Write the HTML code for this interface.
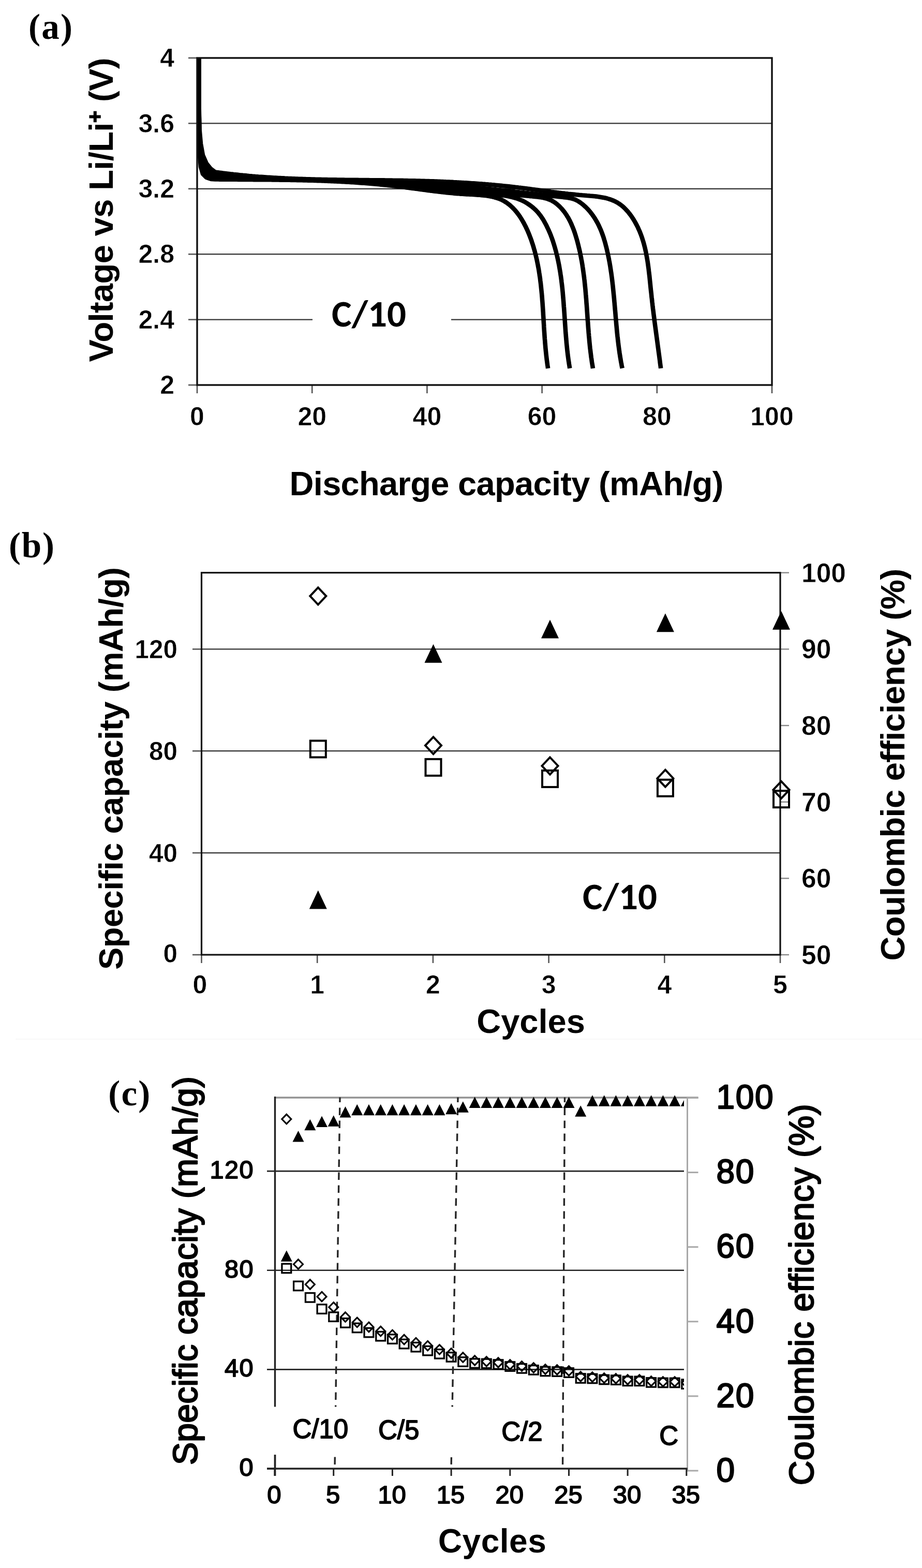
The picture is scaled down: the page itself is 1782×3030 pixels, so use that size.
<!DOCTYPE html><html><head><meta charset="utf-8"><title>Figure</title><style>html,body{margin:0;padding:0;background:#fff;}svg{display:block;}</style></head><body>
<svg width="1782" height="3030" viewBox="0 0 1782 3030">
<rect width="1782" height="3030" fill="#fff"/>
<line x1="30" y1="2008" x2="1782" y2="2008" stroke="#f8f8f8" stroke-width="2"/>
<line x1="381.0" y1="617.6" x2="1492.0" y2="617.6" stroke="#333" stroke-width="2.2" />
<line x1="381.0" y1="491.2" x2="1492.0" y2="491.2" stroke="#333" stroke-width="2.2" />
<line x1="381.0" y1="364.8" x2="1492.0" y2="364.8" stroke="#333" stroke-width="2.2" />
<line x1="381.0" y1="238.4" x2="1492.0" y2="238.4" stroke="#333" stroke-width="2.2" />
<line x1="364.0" y1="744.0" x2="381.0" y2="744.0" stroke="#555" stroke-width="2.6" />
<line x1="364.0" y1="617.6" x2="381.0" y2="617.6" stroke="#555" stroke-width="2.6" />
<line x1="364.0" y1="491.2" x2="381.0" y2="491.2" stroke="#555" stroke-width="2.6" />
<line x1="364.0" y1="364.8" x2="381.0" y2="364.8" stroke="#555" stroke-width="2.6" />
<line x1="364.0" y1="238.4" x2="381.0" y2="238.4" stroke="#555" stroke-width="2.6" />
<line x1="364.0" y1="112.0" x2="381.0" y2="112.0" stroke="#555" stroke-width="2.6" />
<line x1="381.0" y1="744.0" x2="381.0" y2="760.0" stroke="#555" stroke-width="2.6" />
<line x1="603.2" y1="744.0" x2="603.2" y2="760.0" stroke="#555" stroke-width="2.6" />
<line x1="825.4" y1="744.0" x2="825.4" y2="760.0" stroke="#555" stroke-width="2.6" />
<line x1="1047.6" y1="744.0" x2="1047.6" y2="760.0" stroke="#555" stroke-width="2.6" />
<line x1="1269.8" y1="744.0" x2="1269.8" y2="760.0" stroke="#555" stroke-width="2.6" />
<line x1="1492.0" y1="744.0" x2="1492.0" y2="760.0" stroke="#555" stroke-width="2.6" />
<rect x="604" y="585" width="268" height="60" fill="#fff"/>
<text x="641.0" y="631.0" font-family="Carlito, Calibri, 'Liberation Sans', sans-serif" font-size="73" font-weight="bold" text-anchor="start" fill="#000" >C/10</text>
<path d="M384.5,112.0 L384.5,200.0 L385.0,260.0 L386.0,300.0 L388.0,322.0 L392.0,336.0 L399.0,343.0 L408.0,346.0 L416.1,346.5 L419.1,346.5 L422.0,346.5 L425.0,346.6 L428.0,346.6 L430.9,346.6 L433.9,346.6 L436.9,346.7 L439.9,346.7 L442.8,346.7 L445.8,346.7 L448.8,346.8 L451.8,346.8 L454.8,346.8 L457.7,346.8 L460.7,346.9 L463.7,346.9 L466.7,346.9 L469.7,346.9 L472.7,346.9 L475.6,347.0 L478.6,347.0 L481.6,347.0 L484.6,347.0 L487.6,347.0 L490.6,347.1 L493.6,347.1 L496.6,347.1 L499.6,347.1 L502.6,347.2 L505.6,347.2 L508.6,347.2 L511.6,347.2 L514.6,347.3 L517.6,347.3 L520.6,347.3 L523.6,347.3 L526.5,347.4 L529.5,347.4 L532.5,347.4 L535.5,347.5 L538.5,347.5 L541.5,347.6 L544.6,347.6 L547.6,347.6 L550.6,347.7 L553.6,347.7 L556.6,347.8 L559.6,347.8 L562.6,347.9 L565.6,347.9 L568.6,348.0 L571.6,348.0 L574.6,348.1 L577.6,348.2 L580.6,348.2 L583.6,348.3 L586.6,348.4 L589.6,348.4 L592.6,348.5 L595.6,348.6 L598.6,348.7 L601.6,348.7 L604.6,348.8 L607.6,348.9 L610.6,349.0 L613.6,349.1 L616.6,349.2 L619.6,349.3 L622.6,349.4 L625.6,349.5 L628.6,349.6 L631.6,349.8 L634.6,349.9 L637.6,350.0 L640.6,350.1 L643.6,350.3 L646.6,350.4 L649.6,350.5 L652.5,350.7 L655.5,350.8 L658.5,351.0 L661.5,351.1 L664.5,351.3 L667.5,351.5 L670.5,351.6 L673.5,351.8 L676.5,352.0 L679.4,352.2 L682.4,352.3 L685.4,352.5 L688.4,352.7 L691.4,352.9 L694.3,353.1 L697.3,353.4 L700.3,353.6 L703.3,353.8 L706.3,354.0 L709.2,354.3 L712.2,354.5 L715.2,354.7 L718.1,355.0 L721.1,355.2 L724.1,355.5 L727.0,355.8 L730.0,356.0 L733.0,356.3 L735.9,356.6 L738.9,356.9 L741.8,357.2 L744.8,357.5 L747.7,357.8 L750.7,358.1 L753.7,358.5 L756.6,358.8 L759.5,359.1 L762.5,359.5 L765.4,359.8 L768.4,360.2 L771.3,360.5 L774.3,360.9 L777.2,361.3 L780.1,361.6 L783.1,362.0 L786.0,362.4 L788.9,362.8 L791.9,363.2 L794.8,363.6 L797.8,363.9 L800.7,364.3 L803.6,364.7 L806.6,365.1 L809.5,365.5 L812.5,365.9 L815.4,366.3 L818.4,366.7 L821.3,367.1 L824.3,367.5 L827.2,367.9 L830.2,368.3 L833.1,368.6 L836.1,369.0 L839.1,369.4 L842.0,369.7 L845.0,370.1 L848.0,370.5 L851.0,370.8 L854.0,371.1 L856.9,371.5 L859.9,371.8 L862.9,372.1 L865.9,372.4 L869.0,372.7 L872.0,373.0 L875.0,373.3 L878.0,373.6 L881.1,373.9 L884.1,374.1 L887.2,374.3 L890.2,374.6 L893.3,374.8 L896.3,375.0 L899.4,375.2 L902.5,375.4 L905.6,375.5 L908.7,375.7 L911.8,375.8 L914.9,376.0 L918.0,376.2 L921.1,376.4 L924.1,376.6 L927.2,376.8 L930.3,377.1 L933.3,377.4 L936.3,377.7 L939.3,378.1 L942.3,378.5 L945.2,379.0 L948.1,379.5 L951.0,380.1 L953.8,380.7 L956.6,381.5 L959.4,382.3 L962.1,383.2 L964.8,384.1 L967.4,385.2 L970.0,386.4 L972.5,387.7 L974.9,389.0 L977.3,390.5 L979.6,392.0 L981.9,393.7 L984.1,395.4 L986.3,397.2 L988.4,399.1 L990.5,401.1 L992.5,403.1 L994.5,405.2 L996.4,407.4 L998.3,409.7 L1000.1,412.0 L1001.9,414.3 L1003.6,416.7 L1005.3,419.2 L1006.9,421.7 L1008.5,424.3 L1010.0,426.9 L1011.5,429.5 L1013.0,432.2 L1014.4,434.9 L1015.8,437.6 L1017.1,440.4 L1018.4,443.1 L1019.7,445.9 L1020.9,448.7 L1022.1,451.6 L1023.2,454.4 L1024.3,457.2 L1025.4,460.1 L1026.5,463.0 L1027.5,465.9 L1028.4,468.8 L1029.4,471.7 L1030.3,474.6 L1031.2,477.5 L1032.0,480.4 L1032.9,483.3 L1033.7,486.3 L1034.4,489.2 L1035.2,492.1 L1035.9,495.1 L1036.6,498.0 L1037.3,500.9 L1037.9,503.9 L1038.5,506.8 L1039.1,509.8 L1039.7,512.7 L1040.2,515.7 L1040.8,518.6 L1041.3,521.5 L1041.8,524.5 L1042.2,527.4 L1042.7,530.4 L1043.1,533.3 L1043.6,536.3 L1044.0,539.2 L1044.3,542.2 L1044.7,545.2 L1045.1,548.1 L1045.4,551.1 L1045.7,554.0 L1046.0,557.0 L1046.3,559.9 L1046.6,562.9 L1046.9,565.9 L1047.2,568.8 L1047.4,571.8 L1047.7,574.8 L1047.9,577.7 L1048.1,580.7 L1048.4,583.7 L1048.6,586.6 L1048.8,589.6 L1049.0,592.6 L1049.2,595.5 L1049.4,598.5 L1049.6,601.5 L1049.8,604.4 L1049.9,607.4 L1050.1,610.4 L1050.3,613.4 L1050.5,616.3 L1050.6,619.3 L1050.8,622.3 L1051.0,625.3 L1051.2,628.2 L1051.3,631.2 L1051.5,634.2 L1051.7,637.2 L1051.9,640.2 L1052.1,643.1 L1052.3,646.1 L1052.5,649.1 L1052.7,652.1 L1052.9,655.1 L1053.2,658.1 L1053.4,661.0 L1053.6,664.0 L1053.9,667.0 L1054.1,670.0 L1054.4,673.0 L1054.7,676.0 L1055.0,679.0 L1055.3,681.9 L1055.6,684.9 L1055.9,687.9 L1056.3,690.9 L1056.6,693.9 L1057.0,696.9 L1057.4,699.9 L1057.8,702.9 L1058.2,705.9 L1058.7,708.9 L1059.1,711.9" fill="none" stroke="#000" stroke-width="8.6" stroke-linejoin="round" stroke-linecap="butt"/>
<path d="M384.5,112.0 L384.5,200.0 L385.0,258.0 L386.5,296.0 L389.0,318.0 L394.0,332.0 L401.0,339.0 L415.8,340.9 L418.8,341.2 L421.8,341.4 L424.9,341.7 L427.9,341.9 L430.9,342.1 L433.9,342.3 L437.0,342.5 L440.0,342.7 L443.0,342.9 L446.0,343.1 L449.0,343.3 L452.0,343.5 L455.0,343.6 L458.0,343.8 L461.1,344.0 L464.1,344.1 L467.1,344.3 L470.1,344.4 L473.1,344.6 L476.1,344.7 L479.1,344.8 L482.1,345.0 L485.1,345.1 L488.1,345.2 L491.1,345.3 L494.1,345.4 L497.0,345.5 L500.0,345.6 L503.0,345.7 L506.0,345.8 L509.0,345.9 L512.0,346.0 L515.0,346.1 L518.0,346.2 L521.0,346.3 L523.9,346.3 L526.9,346.4 L529.9,346.5 L532.9,346.5 L535.9,346.6 L538.9,346.7 L541.8,346.7 L544.8,346.8 L547.8,346.9 L550.8,346.9 L553.8,347.0 L556.7,347.0 L559.7,347.1 L562.7,347.1 L565.7,347.2 L568.6,347.2 L571.6,347.3 L574.6,347.4 L577.6,347.4 L580.5,347.5 L583.5,347.5 L586.5,347.6 L589.5,347.6 L592.4,347.7 L595.4,347.7 L598.4,347.8 L601.4,347.8 L604.3,347.9 L607.3,347.9 L610.3,348.0 L613.3,348.0 L616.2,348.1 L619.2,348.1 L622.2,348.2 L625.2,348.3 L628.1,348.3 L631.1,348.4 L634.1,348.5 L637.1,348.5 L640.0,348.6 L643.0,348.7 L646.0,348.8 L649.0,348.8 L651.9,348.9 L654.9,349.0 L657.9,349.1 L660.9,349.2 L663.8,349.3 L666.8,349.4 L669.8,349.5 L672.8,349.6 L675.8,349.7 L678.7,349.8 L681.7,350.0 L684.7,350.1 L687.7,350.2 L690.7,350.4 L693.6,350.5 L696.6,350.6 L699.6,350.8 L702.6,350.9 L705.6,351.1 L708.6,351.3 L711.6,351.4 L714.6,351.6 L717.5,351.8 L720.5,352.0 L723.5,352.2 L726.5,352.4 L729.5,352.6 L732.5,352.8 L735.5,353.0 L738.5,353.3 L741.5,353.5 L744.5,353.7 L747.5,354.0 L750.5,354.2 L753.5,354.5 L756.5,354.8 L759.5,355.0 L762.5,355.3 L765.5,355.6 L768.6,355.9 L771.6,356.2 L774.6,356.6 L777.6,356.9 L780.6,357.2 L783.6,357.5 L786.6,357.9 L789.7,358.2 L792.7,358.6 L795.7,358.9 L798.7,359.3 L801.7,359.6 L804.7,360.0 L807.8,360.3 L810.8,360.7 L813.8,361.1 L816.8,361.4 L819.8,361.8 L822.8,362.2 L825.9,362.6 L828.9,362.9 L831.9,363.3 L834.9,363.7 L837.9,364.0 L840.9,364.4 L843.9,364.8 L847.0,365.1 L850.0,365.5 L853.0,365.8 L856.0,366.2 L859.0,366.5 L862.0,366.9 L865.0,367.2 L868.0,367.5 L871.0,367.9 L874.0,368.2 L877.0,368.5 L880.0,368.8 L883.0,369.1 L885.9,369.4 L888.9,369.7 L891.9,370.0 L894.9,370.2 L897.9,370.5 L900.8,370.8 L903.8,371.0 L906.8,371.2 L909.7,371.5 L912.7,371.7 L915.7,371.9 L918.6,372.1 L921.6,372.3 L924.5,372.5 L927.5,372.8 L930.4,373.0 L933.3,373.2 L936.3,373.5 L939.2,373.7 L942.1,374.0 L945.0,374.2 L948.0,374.5 L950.9,374.8 L953.8,375.1 L956.7,375.4 L959.6,375.8 L962.5,376.1 L965.4,376.5 L968.2,376.9 L971.1,377.4 L974.0,377.8 L976.9,378.3 L979.7,378.8 L982.6,379.4 L985.4,380.0 L988.3,380.6 L991.1,381.3 L993.9,382.0 L996.8,382.8 L999.6,383.7 L1002.4,384.8 L1005.2,385.9 L1008.0,387.1 L1010.8,388.4 L1013.5,389.8 L1016.2,391.3 L1018.8,392.9 L1021.4,394.6 L1024.0,396.4 L1026.5,398.2 L1028.9,400.1 L1031.3,402.1 L1033.5,404.1 L1035.7,406.2 L1037.8,408.4 L1039.8,410.6 L1041.7,412.9 L1043.6,415.3 L1045.3,417.6 L1047.0,420.1 L1048.6,422.5 L1050.2,425.1 L1051.7,427.6 L1053.1,430.2 L1054.5,432.8 L1055.9,435.4 L1057.2,438.1 L1058.5,440.8 L1059.8,443.5 L1061.0,446.2 L1062.2,448.9 L1063.4,451.7 L1064.5,454.5 L1065.5,457.3 L1066.6,460.1 L1067.6,463.0 L1068.6,465.8 L1069.5,468.7 L1070.4,471.6 L1071.3,474.5 L1072.2,477.4 L1073.0,480.3 L1073.8,483.2 L1074.6,486.1 L1075.3,489.0 L1076.1,492.0 L1076.8,494.9 L1077.4,497.8 L1078.1,500.8 L1078.7,503.7 L1079.3,506.6 L1079.9,509.6 L1080.5,512.5 L1081.0,515.5 L1081.5,518.4 L1082.0,521.4 L1082.5,524.3 L1083.0,527.3 L1083.4,530.2 L1083.9,533.2 L1084.3,536.1 L1084.7,539.1 L1085.1,542.1 L1085.4,545.0 L1085.8,548.0 L1086.1,550.9 L1086.5,553.9 L1086.8,556.9 L1087.1,559.8 L1087.4,562.8 L1087.7,565.8 L1087.9,568.8 L1088.2,571.7 L1088.4,574.7 L1088.7,577.7 L1088.9,580.7 L1089.2,583.6 L1089.4,586.6 L1089.6,589.6 L1089.8,592.6 L1090.1,595.5 L1090.3,598.5 L1090.5,601.5 L1090.7,604.5 L1090.9,607.5 L1091.1,610.5 L1091.3,613.4 L1091.5,616.4 L1091.7,619.4 L1091.9,622.4 L1092.1,625.4 L1092.3,628.4 L1092.5,631.3 L1092.7,634.3 L1092.9,637.3 L1093.1,640.3 L1093.3,643.3 L1093.6,646.3 L1093.8,649.3 L1094.1,652.2 L1094.3,655.2 L1094.6,658.2 L1094.8,661.2 L1095.1,664.2 L1095.4,667.2 L1095.7,670.1 L1096.0,673.1 L1096.3,676.1 L1096.6,679.1 L1097.0,682.1 L1097.3,685.1 L1097.7,688.0 L1098.1,691.0 L1098.5,694.0 L1098.9,697.0 L1099.4,699.9 L1099.8,702.9 L1100.3,705.9 L1100.8,708.9 L1101.3,711.8" fill="none" stroke="#000" stroke-width="8.6" stroke-linejoin="round" stroke-linecap="butt"/>
<path d="M384.5,112.0 L384.5,200.0 L385.0,255.0 L387.0,292.0 L390.0,313.0 L395.0,326.0 L403.0,334.0 L415.8,337.9 L418.8,338.2 L421.9,338.4 L424.9,338.7 L427.9,339.0 L430.9,339.3 L433.9,339.5 L436.9,339.8 L439.9,340.0 L442.9,340.3 L445.9,340.5 L448.9,340.8 L451.9,341.0 L454.9,341.2 L457.9,341.4 L460.9,341.6 L463.9,341.8 L466.9,342.0 L469.9,342.2 L472.9,342.4 L475.9,342.6 L478.9,342.8 L481.9,343.0 L484.9,343.2 L487.9,343.3 L490.9,343.5 L493.9,343.6 L496.9,343.8 L499.9,344.0 L502.9,344.1 L505.9,344.2 L508.8,344.4 L511.8,344.5 L514.8,344.7 L517.8,344.8 L520.8,344.9 L523.8,345.0 L526.8,345.2 L529.7,345.3 L532.7,345.4 L535.7,345.5 L538.7,345.6 L541.7,345.7 L544.7,345.8 L547.6,345.9 L550.6,346.0 L553.6,346.1 L556.6,346.2 L559.6,346.3 L562.5,346.4 L565.5,346.5 L568.5,346.6 L571.5,346.7 L574.5,346.7 L577.4,346.8 L580.4,346.9 L583.4,347.0 L586.4,347.1 L589.4,347.2 L592.3,347.2 L595.3,347.3 L598.3,347.4 L601.3,347.5 L604.2,347.5 L607.2,347.6 L610.2,347.7 L613.2,347.8 L616.1,347.8 L619.1,347.9 L622.1,348.0 L625.1,348.0 L628.1,348.1 L631.0,348.2 L634.0,348.3 L637.0,348.3 L640.0,348.4 L642.9,348.5 L645.9,348.6 L648.9,348.7 L651.9,348.7 L654.8,348.8 L657.8,348.9 L660.8,349.0 L663.8,349.1 L666.8,349.2 L669.7,349.2 L672.7,349.3 L675.7,349.4 L678.7,349.5 L681.7,349.6 L684.6,349.7 L687.6,349.8 L690.6,349.9 L693.6,350.0 L696.6,350.1 L699.6,350.2 L702.5,350.3 L705.5,350.5 L708.5,350.6 L711.5,350.7 L714.5,350.8 L717.5,351.0 L720.5,351.1 L723.4,351.2 L726.4,351.4 L729.4,351.5 L732.4,351.7 L735.4,351.8 L738.4,352.0 L741.4,352.1 L744.4,352.3 L747.4,352.4 L750.4,352.6 L753.4,352.8 L756.4,353.0 L759.4,353.2 L762.3,353.3 L765.3,353.5 L768.3,353.7 L771.3,353.9 L774.3,354.1 L777.3,354.4 L780.3,354.6 L783.4,354.8 L786.4,355.0 L789.4,355.2 L792.4,355.5 L795.4,355.7 L798.4,356.0 L801.4,356.2 L804.4,356.4 L807.4,356.7 L810.4,357.0 L813.4,357.2 L816.4,357.5 L819.4,357.7 L822.4,358.0 L825.4,358.3 L828.4,358.6 L831.4,358.8 L834.4,359.1 L837.5,359.4 L840.5,359.7 L843.5,360.0 L846.5,360.3 L849.5,360.6 L852.5,360.8 L855.5,361.1 L858.5,361.4 L861.5,361.7 L864.5,362.0 L867.5,362.4 L870.5,362.7 L873.5,363.0 L876.5,363.3 L879.5,363.6 L882.5,363.9 L885.5,364.2 L888.5,364.5 L891.5,364.9 L894.5,365.2 L897.5,365.5 L900.5,365.8 L903.5,366.1 L906.5,366.5 L909.5,366.8 L912.5,367.1 L915.4,367.4 L918.4,367.8 L921.4,368.1 L924.4,368.4 L927.4,368.7 L930.4,369.1 L933.4,369.4 L936.3,369.7 L939.3,370.0 L942.3,370.4 L945.3,370.7 L948.2,371.0 L951.2,371.3 L954.2,371.7 L957.2,372.0 L960.1,372.3 L963.1,372.6 L966.0,373.0 L969.0,373.3 L972.0,373.6 L974.9,373.9 L977.9,374.2 L980.8,374.5 L983.8,374.9 L986.7,375.2 L989.7,375.5 L992.6,375.8 L995.6,376.1 L998.5,376.4 L1001.5,376.7 L1004.4,377.0 L1007.3,377.3 L1010.3,377.6 L1013.2,377.9 L1016.1,378.2 L1019.0,378.5 L1022.0,378.8 L1024.9,379.1 L1027.8,379.3 L1030.7,379.6 L1033.6,379.9 L1036.5,380.2 L1039.4,380.5 L1042.3,380.9 L1045.1,381.3 L1048.0,381.8 L1050.8,382.3 L1053.6,383.0 L1056.3,383.7 L1059.0,384.6 L1061.7,385.6 L1064.3,386.7 L1066.9,388.0 L1069.4,389.5 L1071.9,391.1 L1074.3,392.8 L1076.7,394.7 L1079.0,396.7 L1081.2,398.7 L1083.3,400.9 L1085.4,403.1 L1087.4,405.4 L1089.3,407.7 L1091.2,410.1 L1092.9,412.6 L1094.6,415.1 L1096.2,417.7 L1097.8,420.2 L1099.3,422.9 L1100.7,425.6 L1102.1,428.3 L1103.4,431.0 L1104.6,433.8 L1105.8,436.6 L1107.0,439.4 L1108.1,442.3 L1109.2,445.1 L1110.2,448.0 L1111.2,450.9 L1112.1,453.8 L1113.0,456.8 L1113.9,459.7 L1114.8,462.7 L1115.6,465.6 L1116.4,468.6 L1117.1,471.5 L1117.9,474.4 L1118.6,477.4 L1119.3,480.3 L1120.0,483.3 L1120.7,486.2 L1121.3,489.2 L1121.9,492.1 L1122.5,495.1 L1123.1,498.0 L1123.6,501.0 L1124.2,503.9 L1124.7,506.9 L1125.2,509.8 L1125.7,512.8 L1126.1,515.7 L1126.6,518.7 L1127.0,521.6 L1127.4,524.6 L1127.8,527.5 L1128.2,530.5 L1128.6,533.4 L1129.0,536.4 L1129.3,539.3 L1129.7,542.3 L1130.0,545.2 L1130.3,548.2 L1130.6,551.2 L1130.9,554.1 L1131.2,557.1 L1131.5,560.0 L1131.7,563.0 L1132.0,565.9 L1132.2,568.9 L1132.5,571.9 L1132.7,574.8 L1133.0,577.8 L1133.2,580.7 L1133.4,583.7 L1133.6,586.7 L1133.9,589.6 L1134.1,592.6 L1134.3,595.6 L1134.5,598.5 L1134.7,601.5 L1134.9,604.5 L1135.1,607.4 L1135.3,610.4 L1135.5,613.4 L1135.7,616.3 L1135.9,619.3 L1136.2,622.3 L1136.4,625.3 L1136.6,628.2 L1136.8,631.2 L1137.0,634.2 L1137.3,637.2 L1137.5,640.1 L1137.7,643.1 L1138.0,646.1 L1138.2,649.1 L1138.5,652.1 L1138.8,655.0 L1139.0,658.0 L1139.3,661.0 L1139.6,664.0 L1139.9,667.0 L1140.2,670.0 L1140.5,673.0 L1140.9,676.0 L1141.2,678.9 L1141.6,681.9 L1142.0,684.9 L1142.3,687.9 L1142.7,690.9 L1143.2,693.9 L1143.6,696.9 L1144.0,699.9 L1144.5,702.9 L1145.0,705.9 L1145.5,708.9 L1146.0,711.9" fill="none" stroke="#000" stroke-width="8.6" stroke-linejoin="round" stroke-linecap="butt"/>
<path d="M384.5,112.0 L384.5,200.0 L385.0,252.0 L387.5,286.0 L391.0,307.0 L397.0,321.0 L405.0,330.0 L415.8,335.0 L418.8,335.4 L421.8,335.8 L424.8,336.1 L427.8,336.5 L430.8,336.8 L433.8,337.2 L436.8,337.5 L439.8,337.8 L442.8,338.1 L445.9,338.4 L448.9,338.7 L451.9,339.0 L454.9,339.3 L457.9,339.6 L460.9,339.9 L463.9,340.1 L466.9,340.4 L469.9,340.6 L472.9,340.9 L475.9,341.1 L478.9,341.4 L481.9,341.6 L484.8,341.8 L487.8,342.0 L490.8,342.2 L493.8,342.4 L496.8,342.6 L499.8,342.8 L502.8,343.0 L505.8,343.2 L508.8,343.4 L511.8,343.6 L514.8,343.7 L517.7,343.9 L520.7,344.1 L523.7,344.2 L526.7,344.4 L529.7,344.5 L532.7,344.7 L535.7,344.8 L538.6,345.0 L541.6,345.1 L544.6,345.2 L547.6,345.3 L550.6,345.5 L553.6,345.6 L556.5,345.7 L559.5,345.8 L562.5,345.9 L565.5,346.0 L568.5,346.1 L571.5,346.2 L574.4,346.3 L577.4,346.4 L580.4,346.5 L583.4,346.6 L586.3,346.7 L589.3,346.8 L592.3,346.8 L595.3,346.9 L598.3,347.0 L601.2,347.1 L604.2,347.2 L607.2,347.2 L610.2,347.3 L613.2,347.4 L616.1,347.4 L619.1,347.5 L622.1,347.6 L625.1,347.6 L628.0,347.7 L631.0,347.7 L634.0,347.8 L637.0,347.9 L640.0,347.9 L642.9,348.0 L645.9,348.0 L648.9,348.1 L651.9,348.2 L654.8,348.2 L657.8,348.3 L660.8,348.3 L663.8,348.4 L666.8,348.4 L669.7,348.5 L672.7,348.6 L675.7,348.6 L678.7,348.7 L681.7,348.7 L684.6,348.8 L687.6,348.9 L690.6,348.9 L693.6,349.0 L696.6,349.1 L699.5,349.1 L702.5,349.2 L705.5,349.3 L708.5,349.3 L711.5,349.4 L714.5,349.5 L717.5,349.6 L720.4,349.6 L723.4,349.7 L726.4,349.8 L729.4,349.9 L732.4,350.0 L735.4,350.1 L738.4,350.1 L741.4,350.2 L744.3,350.3 L747.3,350.4 L750.3,350.5 L753.3,350.6 L756.3,350.8 L759.3,350.9 L762.3,351.0 L765.3,351.1 L768.3,351.2 L771.3,351.3 L774.3,351.5 L777.3,351.6 L780.3,351.8 L783.3,351.9 L786.3,352.0 L789.3,352.2 L792.3,352.3 L795.3,352.5 L798.3,352.7 L801.3,352.8 L804.3,353.0 L807.3,353.2 L810.3,353.4 L813.3,353.6 L816.3,353.7 L819.3,353.9 L822.3,354.1 L825.4,354.3 L828.4,354.5 L831.4,354.8 L834.4,355.0 L837.4,355.2 L840.4,355.4 L843.4,355.6 L846.4,355.9 L849.5,356.1 L852.5,356.3 L855.5,356.6 L858.5,356.8 L861.5,357.1 L864.5,357.3 L867.5,357.6 L870.5,357.8 L873.6,358.1 L876.6,358.4 L879.6,358.6 L882.6,358.9 L885.6,359.2 L888.6,359.4 L891.6,359.7 L894.6,360.0 L897.6,360.3 L900.7,360.6 L903.7,360.9 L906.7,361.2 L909.7,361.4 L912.7,361.7 L915.7,362.0 L918.7,362.3 L921.7,362.6 L924.7,362.9 L927.7,363.2 L930.7,363.6 L933.7,363.9 L936.7,364.2 L939.7,364.5 L942.7,364.8 L945.7,365.1 L948.7,365.4 L951.7,365.8 L954.7,366.1 L957.7,366.4 L960.6,366.7 L963.6,367.0 L966.6,367.4 L969.6,367.7 L972.6,368.0 L975.6,368.3 L978.5,368.7 L981.5,369.0 L984.5,369.3 L987.5,369.7 L990.4,370.0 L993.4,370.3 L996.4,370.7 L999.3,371.0 L1002.3,371.3 L1005.2,371.7 L1008.2,372.0 L1011.2,372.3 L1014.1,372.7 L1017.1,373.0 L1020.0,373.3 L1022.9,373.7 L1025.9,374.0 L1028.8,374.3 L1031.8,374.6 L1034.7,375.0 L1037.6,375.3 L1040.6,375.6 L1043.5,376.0 L1046.4,376.3 L1049.3,376.6 L1052.2,377.0 L1055.2,377.3 L1058.1,377.6 L1061.0,377.9 L1063.9,378.3 L1066.8,378.6 L1069.7,378.9 L1072.6,379.2 L1075.5,379.5 L1078.4,379.9 L1081.2,380.2 L1084.1,380.5 L1087.0,380.8 L1089.9,381.1 L1092.7,381.4 L1095.6,381.8 L1098.5,382.2 L1101.3,382.7 L1104.1,383.3 L1106.9,384.1 L1109.6,385.0 L1112.3,386.1 L1115.0,387.4 L1117.6,388.9 L1120.2,390.5 L1122.7,392.3 L1125.2,394.2 L1127.6,396.1 L1129.9,398.2 L1132.2,400.3 L1134.4,402.5 L1136.6,404.8 L1138.7,407.2 L1140.7,409.6 L1142.6,412.0 L1144.5,414.5 L1146.4,417.1 L1148.1,419.6 L1149.8,422.2 L1151.4,424.9 L1152.9,427.5 L1154.4,430.1 L1155.8,432.8 L1157.2,435.5 L1158.4,438.2 L1159.7,441.0 L1160.9,443.7 L1162.0,446.4 L1163.1,449.2 L1164.1,452.0 L1165.1,454.8 L1166.1,457.6 L1167.0,460.4 L1167.8,463.2 L1168.7,466.1 L1169.5,468.9 L1170.3,471.8 L1171.0,474.6 L1171.8,477.5 L1172.5,480.4 L1173.2,483.3 L1173.8,486.2 L1174.5,489.0 L1175.1,491.9 L1175.7,494.8 L1176.3,497.8 L1176.9,500.7 L1177.4,503.6 L1178.0,506.5 L1178.5,509.4 L1179.0,512.4 L1179.5,515.3 L1179.9,518.3 L1180.4,521.2 L1180.8,524.2 L1181.3,527.1 L1181.7,530.1 L1182.1,533.0 L1182.5,536.0 L1182.9,539.0 L1183.2,541.9 L1183.6,544.9 L1183.9,547.9 L1184.3,550.9 L1184.6,553.8 L1184.9,556.8 L1185.2,559.8 L1185.5,562.8 L1185.8,565.8 L1186.1,568.8 L1186.4,571.8 L1186.7,574.8 L1187.0,577.8 L1187.2,580.8 L1187.5,583.8 L1187.8,586.8 L1188.0,589.8 L1188.3,592.8 L1188.5,595.8 L1188.8,598.8 L1189.1,601.8 L1189.3,604.8 L1189.6,607.8 L1189.8,610.8 L1190.1,613.8 L1190.3,616.8 L1190.6,619.8 L1190.9,622.8 L1191.1,625.8 L1191.4,628.8 L1191.7,631.8 L1192.0,634.8 L1192.2,637.8 L1192.5,640.8 L1192.8,643.7 L1193.1,646.7 L1193.4,649.7 L1193.8,652.7 L1194.1,655.7 L1194.4,658.7 L1194.8,661.6 L1195.1,664.6 L1195.5,667.6 L1195.9,670.5 L1196.3,673.5 L1196.7,676.5 L1197.1,679.4 L1197.5,682.4 L1198.0,685.3 L1198.4,688.3 L1198.9,691.2 L1199.4,694.1 L1199.9,697.1 L1200.4,700.0 L1201.0,702.9 L1201.5,705.8 L1202.1,708.8 L1202.7,711.7" fill="none" stroke="#000" stroke-width="8.6" stroke-linejoin="round" stroke-linecap="butt"/>
<path d="M384.5,112.0 L384.5,200.0 L385.5,250.0 L388.0,278.0 L392.0,300.0 L399.0,316.0 L407.0,326.0 L415.6,332.5 L418.6,332.9 L421.6,333.3 L424.6,333.7 L427.6,334.1 L430.6,334.5 L433.6,334.9 L436.6,335.2 L439.6,335.6 L442.6,335.9 L445.7,336.3 L448.7,336.6 L451.7,337.0 L454.7,337.3 L457.7,337.6 L460.7,337.9 L463.7,338.3 L466.7,338.6 L469.7,338.9 L472.7,339.1 L475.7,339.4 L478.7,339.7 L481.7,340.0 L484.7,340.2 L487.7,340.5 L490.7,340.7 L493.7,341.0 L496.7,341.2 L499.7,341.5 L502.7,341.7 L505.7,341.9 L508.7,342.1 L511.7,342.3 L514.7,342.5 L517.7,342.7 L520.7,342.9 L523.7,343.1 L526.7,343.3 L529.7,343.5 L532.7,343.6 L535.7,343.8 L538.7,344.0 L541.6,344.1 L544.6,344.3 L547.6,344.4 L550.6,344.6 L553.6,344.7 L556.6,344.9 L559.6,345.0 L562.6,345.1 L565.6,345.3 L568.6,345.4 L571.6,345.5 L574.6,345.6 L577.6,345.7 L580.6,345.8 L583.6,345.9 L586.6,346.0 L589.6,346.1 L592.6,346.2 L595.6,346.3 L598.5,346.4 L601.5,346.5 L604.5,346.5 L607.5,346.6 L610.5,346.7 L613.5,346.8 L616.5,346.8 L619.5,346.9 L622.5,347.0 L625.5,347.0 L628.5,347.1 L631.5,347.1 L634.5,347.2 L637.4,347.2 L640.4,347.3 L643.4,347.3 L646.4,347.4 L649.4,347.4 L652.4,347.5 L655.4,347.5 L658.4,347.6 L661.4,347.6 L664.4,347.6 L667.4,347.7 L670.4,347.7 L673.3,347.8 L676.3,347.8 L679.3,347.8 L682.3,347.8 L685.3,347.9 L688.3,347.9 L691.3,347.9 L694.3,348.0 L697.3,348.0 L700.3,348.0 L703.2,348.1 L706.2,348.1 L709.2,348.1 L712.2,348.1 L715.2,348.2 L718.2,348.2 L721.2,348.2 L724.2,348.3 L727.2,348.3 L730.2,348.3 L733.1,348.3 L736.1,348.4 L739.1,348.4 L742.1,348.4 L745.1,348.5 L748.1,348.5 L751.1,348.5 L754.1,348.6 L757.1,348.6 L760.0,348.7 L763.0,348.7 L766.0,348.7 L769.0,348.8 L772.0,348.8 L775.0,348.9 L778.0,348.9 L781.0,349.0 L784.0,349.0 L787.0,349.1 L789.9,349.2 L792.9,349.2 L795.9,349.3 L798.9,349.3 L801.9,349.4 L804.9,349.5 L807.9,349.6 L810.9,349.6 L813.9,349.7 L816.9,349.8 L819.8,349.9 L822.8,350.0 L825.8,350.0 L828.8,350.1 L831.8,350.2 L834.8,350.3 L837.8,350.4 L840.8,350.5 L843.8,350.6 L846.8,350.8 L849.7,350.9 L852.7,351.0 L855.7,351.1 L858.7,351.2 L861.7,351.4 L864.7,351.5 L867.7,351.6 L870.7,351.8 L873.7,351.9 L876.7,352.1 L879.7,352.2 L882.6,352.4 L885.6,352.5 L888.6,352.7 L891.6,352.9 L894.6,353.0 L897.6,353.2 L900.6,353.4 L903.6,353.6 L906.6,353.8 L909.6,354.0 L912.6,354.2 L915.6,354.4 L918.6,354.6 L921.6,354.8 L924.5,355.0 L927.5,355.2 L930.5,355.4 L933.5,355.7 L936.5,355.9 L939.5,356.2 L942.5,356.4 L945.5,356.7 L948.5,356.9 L951.5,357.2 L954.5,357.4 L957.5,357.7 L960.5,358.0 L963.5,358.3 L966.5,358.6 L969.5,358.9 L972.5,359.2 L975.5,359.5 L978.5,359.8 L981.5,360.1 L984.4,360.4 L987.4,360.7 L990.4,361.1 L993.4,361.4 L996.4,361.8 L999.4,362.1 L1002.4,362.5 L1005.4,362.8 L1008.4,363.2 L1011.4,363.6 L1014.4,363.9 L1017.4,364.3 L1020.4,364.7 L1023.4,365.1 L1026.4,365.5 L1029.4,365.9 L1032.4,366.3 L1035.4,366.7 L1038.4,367.1 L1041.4,367.5 L1044.4,367.9 L1047.4,368.3 L1050.4,368.7 L1053.4,369.1 L1056.4,369.5 L1059.4,369.9 L1062.4,370.3 L1065.4,370.7 L1068.4,371.0 L1071.5,371.4 L1074.5,371.8 L1077.5,372.2 L1080.5,372.6 L1083.5,372.9 L1086.5,373.3 L1089.5,373.6 L1092.5,374.0 L1095.5,374.3 L1098.5,374.7 L1101.5,375.0 L1104.5,375.3 L1107.5,375.6 L1110.5,375.9 L1113.5,376.2 L1116.5,376.5 L1119.5,376.8 L1122.6,377.0 L1125.6,377.3 L1128.6,377.5 L1131.6,377.7 L1134.6,378.0 L1137.6,378.2 L1140.6,378.5 L1143.6,378.7 L1146.5,379.0 L1149.5,379.3 L1152.4,379.6 L1155.3,380.0 L1158.2,380.4 L1161.1,380.9 L1164.0,381.4 L1166.8,381.9 L1169.6,382.5 L1172.4,383.2 L1175.1,384.0 L1177.8,384.8 L1180.5,385.7 L1183.2,386.7 L1185.7,387.8 L1188.3,388.9 L1190.8,390.2 L1193.3,391.6 L1195.7,393.1 L1198.1,394.7 L1200.4,396.4 L1202.7,398.2 L1204.9,400.1 L1207.1,402.2 L1209.2,404.3 L1211.2,406.5 L1213.3,408.7 L1215.2,411.1 L1217.1,413.5 L1219.0,416.0 L1220.8,418.5 L1222.5,421.1 L1224.2,423.7 L1225.8,426.4 L1227.4,429.1 L1228.9,431.8 L1230.4,434.6 L1231.8,437.4 L1233.2,440.2 L1234.4,443.0 L1235.7,445.8 L1236.9,448.6 L1238.0,451.5 L1239.1,454.3 L1240.1,457.2 L1241.1,460.0 L1242.0,462.9 L1242.9,465.7 L1243.7,468.6 L1244.6,471.5 L1245.3,474.4 L1246.1,477.3 L1246.8,480.2 L1247.4,483.1 L1248.1,486.0 L1248.7,488.9 L1249.2,491.8 L1249.8,494.8 L1250.3,497.7 L1250.8,500.6 L1251.3,503.6 L1251.8,506.5 L1252.2,509.4 L1252.6,512.4 L1253.0,515.3 L1253.4,518.3 L1253.8,521.3 L1254.1,524.2 L1254.5,527.2 L1254.8,530.2 L1255.2,533.1 L1255.5,536.1 L1255.8,539.1 L1256.1,542.1 L1256.4,545.0 L1256.7,548.0 L1257.0,551.0 L1257.3,554.0 L1257.6,557.0 L1257.9,559.9 L1258.2,562.9 L1258.6,565.9 L1258.9,568.9 L1259.2,571.9 L1259.5,574.8 L1259.9,577.8 L1260.2,580.8 L1260.5,583.8 L1260.9,586.8 L1261.2,589.8 L1261.6,592.7 L1261.9,595.7 L1262.3,598.7 L1262.7,601.7 L1263.0,604.7 L1263.4,607.6 L1263.8,610.6 L1264.2,613.6 L1264.6,616.6 L1264.9,619.6 L1265.3,622.5 L1265.7,625.5 L1266.1,628.5 L1266.5,631.5 L1266.9,634.4 L1267.3,637.4 L1267.7,640.4 L1268.1,643.4 L1268.5,646.4 L1268.9,649.3 L1269.3,652.3 L1269.7,655.3 L1270.1,658.3 L1270.5,661.2 L1270.9,664.2 L1271.3,667.2 L1271.7,670.2 L1272.1,673.1 L1272.5,676.1 L1272.9,679.1 L1273.3,682.1 L1273.7,685.0 L1274.1,688.0 L1274.5,691.0 L1274.9,694.0 L1275.3,696.9 L1275.6,699.9 L1276.0,702.9 L1276.4,705.8 L1276.8,708.8 L1277.2,711.8" fill="none" stroke="#000" stroke-width="8.6" stroke-linejoin="round" stroke-linecap="butt"/>
<rect x="381" y="112" width="1111" height="632" fill="none" stroke="#111" stroke-width="3.4"/>
<text x="337.0" y="761.2" font-family="'Liberation Sans', Arial, Helvetica, sans-serif" font-size="50" font-weight="bold" text-anchor="end" fill="#000" stroke="#fff" stroke-width="0.6" stroke-linejoin="round">2</text>
<text x="337.0" y="634.8" font-family="'Liberation Sans', Arial, Helvetica, sans-serif" font-size="50" font-weight="bold" text-anchor="end" fill="#000" stroke="#fff" stroke-width="0.6" stroke-linejoin="round">2.4</text>
<text x="337.0" y="508.4" font-family="'Liberation Sans', Arial, Helvetica, sans-serif" font-size="50" font-weight="bold" text-anchor="end" fill="#000" stroke="#fff" stroke-width="0.6" stroke-linejoin="round">2.8</text>
<text x="337.0" y="382.0" font-family="'Liberation Sans', Arial, Helvetica, sans-serif" font-size="50" font-weight="bold" text-anchor="end" fill="#000" stroke="#fff" stroke-width="0.6" stroke-linejoin="round">3.2</text>
<text x="337.0" y="255.6" font-family="'Liberation Sans', Arial, Helvetica, sans-serif" font-size="50" font-weight="bold" text-anchor="end" fill="#000" stroke="#fff" stroke-width="0.6" stroke-linejoin="round">3.6</text>
<text x="337.0" y="129.2" font-family="'Liberation Sans', Arial, Helvetica, sans-serif" font-size="50" font-weight="bold" text-anchor="end" fill="#000" stroke="#fff" stroke-width="0.6" stroke-linejoin="round">4</text>
<text x="381.0" y="821.5" font-family="'Liberation Sans', Arial, Helvetica, sans-serif" font-size="50" font-weight="bold" text-anchor="middle" fill="#000" stroke="#fff" stroke-width="0.6" stroke-linejoin="round">0</text>
<text x="603.2" y="821.5" font-family="'Liberation Sans', Arial, Helvetica, sans-serif" font-size="50" font-weight="bold" text-anchor="middle" fill="#000" stroke="#fff" stroke-width="0.6" stroke-linejoin="round">20</text>
<text x="825.4" y="821.5" font-family="'Liberation Sans', Arial, Helvetica, sans-serif" font-size="50" font-weight="bold" text-anchor="middle" fill="#000" stroke="#fff" stroke-width="0.6" stroke-linejoin="round">40</text>
<text x="1047.6" y="821.5" font-family="'Liberation Sans', Arial, Helvetica, sans-serif" font-size="50" font-weight="bold" text-anchor="middle" fill="#000" stroke="#fff" stroke-width="0.6" stroke-linejoin="round">60</text>
<text x="1269.8" y="821.5" font-family="'Liberation Sans', Arial, Helvetica, sans-serif" font-size="50" font-weight="bold" text-anchor="middle" fill="#000" stroke="#fff" stroke-width="0.6" stroke-linejoin="round">80</text>
<text x="1492.0" y="821.5" font-family="'Liberation Sans', Arial, Helvetica, sans-serif" font-size="50" font-weight="bold" text-anchor="middle" fill="#000" stroke="#fff" stroke-width="0.6" stroke-linejoin="round">100</text>
<text transform="translate(218.0,405.5) rotate(-90)" x="0" y="0" font-family="'Liberation Sans', Arial, Helvetica, sans-serif" font-size="65" font-weight="bold" text-anchor="middle" fill="#000" textLength="588" lengthAdjust="spacing">Voltage vs Li/Li<tspan font-size="40" dy="-21" stroke="#000" stroke-width="1.6">+</tspan><tspan dy="21" dx="0"> (V)</tspan></text>
<text x="559.5" y="957.0" font-family="'Liberation Sans', Arial, Helvetica, sans-serif" font-size="65" font-weight="bold" text-anchor="start" fill="#000" textLength="839" lengthAdjust="spacing">Discharge capacity (mAh/g)</text>
<text x="55.0" y="75.0" font-family="'Liberation Serif', 'Times New Roman', serif" font-size="69" font-weight="bold" text-anchor="start" fill="#000" textLength="85" lengthAdjust="spacing">(a)</text>
<line x1="389.5" y1="1648.1" x2="1508.0" y2="1648.1" stroke="#333" stroke-width="2.2" />
<line x1="389.5" y1="1451.2" x2="1508.0" y2="1451.2" stroke="#333" stroke-width="2.2" />
<line x1="389.5" y1="1254.4" x2="1508.0" y2="1254.4" stroke="#333" stroke-width="2.2" />
<line x1="372.0" y1="1845.0" x2="389.5" y2="1845.0" stroke="#555" stroke-width="2.6" />
<line x1="372.0" y1="1648.1" x2="389.5" y2="1648.1" stroke="#555" stroke-width="2.6" />
<line x1="372.0" y1="1451.2" x2="389.5" y2="1451.2" stroke="#555" stroke-width="2.6" />
<line x1="372.0" y1="1254.4" x2="389.5" y2="1254.4" stroke="#555" stroke-width="2.6" />
<line x1="1508.0" y1="1845.0" x2="1525.0" y2="1845.0" stroke="#888" stroke-width="2.4" />
<line x1="1508.0" y1="1697.3" x2="1525.0" y2="1697.3" stroke="#888" stroke-width="2.4" />
<line x1="1508.0" y1="1549.7" x2="1525.0" y2="1549.7" stroke="#888" stroke-width="2.4" />
<line x1="1508.0" y1="1402.0" x2="1525.0" y2="1402.0" stroke="#888" stroke-width="2.4" />
<line x1="1508.0" y1="1254.4" x2="1525.0" y2="1254.4" stroke="#888" stroke-width="2.4" />
<line x1="1508.0" y1="1106.7" x2="1525.0" y2="1106.7" stroke="#888" stroke-width="2.4" />
<line x1="389.5" y1="1845.0" x2="389.5" y2="1861.0" stroke="#555" stroke-width="2.6" />
<line x1="613.2" y1="1845.0" x2="613.2" y2="1861.0" stroke="#555" stroke-width="2.6" />
<line x1="836.9" y1="1845.0" x2="836.9" y2="1861.0" stroke="#555" stroke-width="2.6" />
<line x1="1060.6" y1="1845.0" x2="1060.6" y2="1861.0" stroke="#555" stroke-width="2.6" />
<line x1="1284.3" y1="1845.0" x2="1284.3" y2="1861.0" stroke="#555" stroke-width="2.6" />
<line x1="1508.0" y1="1845.0" x2="1508.0" y2="1861.0" stroke="#555" stroke-width="2.6" />
<rect x="389.5" y="1106.7" width="1118.5" height="738.3" fill="none" stroke="#111" stroke-width="3.2"/>
<rect x="599.8" y="1431.4" width="30.0" height="32.0" fill="none" stroke="#000" stroke-width="4"/>
<rect x="822.5" y="1466.9" width="30.0" height="32.0" fill="none" stroke="#000" stroke-width="4"/>
<rect x="1048.0" y="1488.9" width="30.0" height="32.0" fill="none" stroke="#000" stroke-width="4"/>
<rect x="1270.9" y="1506.7" width="30.0" height="32.0" fill="none" stroke="#000" stroke-width="4"/>
<rect x="1495.0" y="1528.2" width="30.0" height="32.0" fill="none" stroke="#000" stroke-width="4"/>
<path d="M614.8,1135.3 L630.3,1151.8 L614.8,1168.3 L599.3,1151.8 Z" fill="none" stroke="#000" stroke-width="4" stroke-linejoin="miter"/>
<path d="M837.5,1424.1 L853.0,1440.6 L837.5,1457.1 L822.0,1440.6 Z" fill="none" stroke="#000" stroke-width="4" stroke-linejoin="miter"/>
<path d="M1063.0,1463.5 L1078.5,1480.0 L1063.0,1496.5 L1047.5,1480.0 Z" fill="none" stroke="#000" stroke-width="4" stroke-linejoin="miter"/>
<path d="M1285.9,1487.7 L1301.4,1504.2 L1285.9,1520.7 L1270.4,1504.2 Z" fill="none" stroke="#000" stroke-width="4" stroke-linejoin="miter"/>
<path d="M1510.0,1509.8 L1525.5,1526.3 L1510.0,1542.8 L1494.5,1526.3 Z" fill="none" stroke="#000" stroke-width="4" stroke-linejoin="miter"/>
<path d="M614.8,1720.6 L631.8,1756.6 L597.8,1756.6 Z" fill="#000"/>
<path d="M837.5,1244.8 L854.5,1280.8 L820.5,1280.8 Z" fill="#000"/>
<path d="M1063.0,1197.4 L1080.0,1233.4 L1046.0,1233.4 Z" fill="#000"/>
<path d="M1285.9,1185.2 L1302.9,1221.2 L1268.9,1221.2 Z" fill="#000"/>
<path d="M1510.0,1180.8 L1527.0,1216.8 L1493.0,1216.8 Z" fill="#000"/>
<text x="1126.0" y="1757.4" font-family="Carlito, Calibri, 'Liberation Sans', sans-serif" font-size="73" font-weight="bold" text-anchor="start" fill="#000" >C/10</text>
<text x="343.0" y="1859.5" font-family="'Liberation Sans', Arial, Helvetica, sans-serif" font-size="49.5" font-weight="bold" text-anchor="end" fill="#000" stroke="#fff" stroke-width="0.6" stroke-linejoin="round">0</text>
<text x="343.0" y="1665.6" font-family="'Liberation Sans', Arial, Helvetica, sans-serif" font-size="49.5" font-weight="bold" text-anchor="end" fill="#000" stroke="#fff" stroke-width="0.6" stroke-linejoin="round">40</text>
<text x="343.0" y="1468.7" font-family="'Liberation Sans', Arial, Helvetica, sans-serif" font-size="49.5" font-weight="bold" text-anchor="end" fill="#000" stroke="#fff" stroke-width="0.6" stroke-linejoin="round">80</text>
<text x="343.0" y="1271.9" font-family="'Liberation Sans', Arial, Helvetica, sans-serif" font-size="49.5" font-weight="bold" text-anchor="end" fill="#000" stroke="#fff" stroke-width="0.6" stroke-linejoin="round">120</text>
<text x="1549.0" y="1863.0" font-family="'Liberation Sans', Arial, Helvetica, sans-serif" font-size="51.5" font-weight="bold" text-anchor="start" fill="#000" stroke="#fff" stroke-width="0.6" stroke-linejoin="round">50</text>
<text x="1549.0" y="1715.3" font-family="'Liberation Sans', Arial, Helvetica, sans-serif" font-size="51.5" font-weight="bold" text-anchor="start" fill="#000" stroke="#fff" stroke-width="0.6" stroke-linejoin="round">60</text>
<text x="1549.0" y="1567.7" font-family="'Liberation Sans', Arial, Helvetica, sans-serif" font-size="51.5" font-weight="bold" text-anchor="start" fill="#000" stroke="#fff" stroke-width="0.6" stroke-linejoin="round">70</text>
<text x="1549.0" y="1420.0" font-family="'Liberation Sans', Arial, Helvetica, sans-serif" font-size="51.5" font-weight="bold" text-anchor="start" fill="#000" stroke="#fff" stroke-width="0.6" stroke-linejoin="round">80</text>
<text x="1549.0" y="1272.4" font-family="'Liberation Sans', Arial, Helvetica, sans-serif" font-size="51.5" font-weight="bold" text-anchor="start" fill="#000" stroke="#fff" stroke-width="0.6" stroke-linejoin="round">90</text>
<text x="1549.0" y="1124.7" font-family="'Liberation Sans', Arial, Helvetica, sans-serif" font-size="51.5" font-weight="bold" text-anchor="start" fill="#000" stroke="#fff" stroke-width="0.6" stroke-linejoin="round">100</text>
<text x="386.5" y="1920.0" font-family="'Liberation Sans', Arial, Helvetica, sans-serif" font-size="50" font-weight="bold" text-anchor="middle" fill="#000" stroke="#fff" stroke-width="0.6" stroke-linejoin="round">0</text>
<text x="613.2" y="1920.0" font-family="'Liberation Sans', Arial, Helvetica, sans-serif" font-size="50" font-weight="bold" text-anchor="middle" fill="#000" stroke="#fff" stroke-width="0.6" stroke-linejoin="round">1</text>
<text x="836.9" y="1920.0" font-family="'Liberation Sans', Arial, Helvetica, sans-serif" font-size="50" font-weight="bold" text-anchor="middle" fill="#000" stroke="#fff" stroke-width="0.6" stroke-linejoin="round">2</text>
<text x="1060.6" y="1920.0" font-family="'Liberation Sans', Arial, Helvetica, sans-serif" font-size="50" font-weight="bold" text-anchor="middle" fill="#000" stroke="#fff" stroke-width="0.6" stroke-linejoin="round">3</text>
<text x="1284.3" y="1920.0" font-family="'Liberation Sans', Arial, Helvetica, sans-serif" font-size="50" font-weight="bold" text-anchor="middle" fill="#000" stroke="#fff" stroke-width="0.6" stroke-linejoin="round">4</text>
<text x="1508.0" y="1920.0" font-family="'Liberation Sans', Arial, Helvetica, sans-serif" font-size="50" font-weight="bold" text-anchor="middle" fill="#000" stroke="#fff" stroke-width="0.6" stroke-linejoin="round">5</text>
<text transform="translate(237.0,1485.0) rotate(-90)" x="0" y="0" font-family="'Liberation Sans', Arial, Helvetica, sans-serif" font-size="65" font-weight="bold" text-anchor="middle" fill="#000" textLength="778" lengthAdjust="spacing">Specific capacity (mAh/g)</text>
<text transform="translate(1747.5,1477.7) rotate(-90)" x="0" y="0" font-family="'Liberation Sans', Arial, Helvetica, sans-serif" font-size="65" font-weight="bold" text-anchor="middle" fill="#000" textLength="757.5" lengthAdjust="spacing">Coulombic efficiency (%)</text>
<text x="1026.0" y="1995.6" font-family="'Liberation Sans', Arial, Helvetica, sans-serif" font-size="65" font-weight="bold" text-anchor="middle" fill="#000" >Cycles</text>
<text x="17.0" y="1077.4" font-family="'Liberation Serif', 'Times New Roman', serif" font-size="69" font-weight="bold" text-anchor="start" fill="#000" textLength="88" lengthAdjust="spacing">(b)</text>
<line x1="531.5" y1="2121.0" x2="1349.5" y2="2121.0" stroke="#939393" stroke-width="3.6" />
<line x1="1328.5" y1="2120.5" x2="1328.5" y2="2843.5" stroke="#a8a8a8" stroke-width="3" />
<line x1="1328.5" y1="2842.0" x2="1349.5" y2="2842.0" stroke="#a8a8a8" stroke-width="3" />
<line x1="1328.5" y1="2697.9" x2="1349.5" y2="2697.9" stroke="#a8a8a8" stroke-width="3" />
<line x1="1328.5" y1="2553.8" x2="1349.5" y2="2553.8" stroke="#a8a8a8" stroke-width="3" />
<line x1="1328.5" y1="2409.7" x2="1349.5" y2="2409.7" stroke="#a8a8a8" stroke-width="3" />
<line x1="1328.5" y1="2265.6" x2="1349.5" y2="2265.6" stroke="#a8a8a8" stroke-width="3" />
<line x1="1328.5" y1="2121.5" x2="1349.5" y2="2121.5" stroke="#a8a8a8" stroke-width="3" />
<line x1="516.0" y1="2646.4" x2="1322.0" y2="2646.4" stroke="#222" stroke-width="2.6" />
<line x1="516.0" y1="2454.8" x2="1322.0" y2="2454.8" stroke="#222" stroke-width="2.6" />
<line x1="516.0" y1="2263.1" x2="1322.0" y2="2263.1" stroke="#222" stroke-width="2.6" />
<line x1="657.0" y1="2120.5" x2="647.0" y2="2838.0" stroke="#262626" stroke-width="3.4" stroke-dasharray="14.5 10.5" stroke-dashoffset="5"/>
<line x1="885.0" y1="2120.5" x2="872.0" y2="2838.0" stroke="#262626" stroke-width="3.4" stroke-dasharray="14.5 10.5" stroke-dashoffset="5"/>
<line x1="1091.5" y1="2120.5" x2="1087.5" y2="2838.0" stroke="#262626" stroke-width="3.4" stroke-dasharray="14.5 10.5" stroke-dashoffset="5"/>
<line x1="531.5" y1="2119.0" x2="531.5" y2="2852.0" stroke="#222" stroke-width="3.4" />
<line x1="516.0" y1="2838.0" x2="1328.5" y2="2838.0" stroke="#222" stroke-width="3.4" />
<line x1="531.0" y1="2838.0" x2="531.0" y2="2852.0" stroke="#222" stroke-width="3" />
<line x1="644.7" y1="2838.0" x2="644.7" y2="2852.0" stroke="#222" stroke-width="3" />
<line x1="758.4" y1="2838.0" x2="758.4" y2="2852.0" stroke="#222" stroke-width="3" />
<line x1="872.1" y1="2838.0" x2="872.1" y2="2852.0" stroke="#222" stroke-width="3" />
<line x1="985.8" y1="2838.0" x2="985.8" y2="2852.0" stroke="#222" stroke-width="3" />
<line x1="1099.5" y1="2838.0" x2="1099.5" y2="2852.0" stroke="#222" stroke-width="3" />
<line x1="1213.1" y1="2838.0" x2="1213.1" y2="2852.0" stroke="#222" stroke-width="3" />
<line x1="1326.8" y1="2838.0" x2="1326.8" y2="2852.0" stroke="#222" stroke-width="3" />
<line x1="516.0" y1="2838.0" x2="531.5" y2="2838.0" stroke="#222" stroke-width="3.4" />
<clipPath id="cclip"><rect x="531.5" y="2090.5" width="790.5" height="747.5"/></clipPath>
<g clip-path="url(#cclip)">
<rect x="544.9" y="2442.2" width="17.8" height="17.5" fill="none" stroke="#000" stroke-width="3.3"/>
<rect x="567.6" y="2476.2" width="17.8" height="17.5" fill="none" stroke="#000" stroke-width="3.3"/>
<rect x="590.4" y="2498.6" width="17.8" height="17.5" fill="none" stroke="#000" stroke-width="3.3"/>
<rect x="613.1" y="2520.8" width="17.8" height="17.5" fill="none" stroke="#000" stroke-width="3.3"/>
<rect x="635.8" y="2535.9" width="17.8" height="17.5" fill="none" stroke="#000" stroke-width="3.3"/>
<rect x="658.6" y="2547.6" width="17.8" height="17.5" fill="none" stroke="#000" stroke-width="3.3"/>
<rect x="681.3" y="2557.2" width="17.8" height="17.5" fill="none" stroke="#000" stroke-width="3.3"/>
<rect x="704.0" y="2566.3" width="17.8" height="17.5" fill="none" stroke="#000" stroke-width="3.3"/>
<rect x="726.8" y="2573.4" width="17.8" height="17.5" fill="none" stroke="#000" stroke-width="3.3"/>
<rect x="749.5" y="2578.8" width="17.8" height="17.5" fill="none" stroke="#000" stroke-width="3.3"/>
<rect x="772.2" y="2588.3" width="17.8" height="17.5" fill="none" stroke="#000" stroke-width="3.3"/>
<rect x="795.0" y="2594.4" width="17.8" height="17.5" fill="none" stroke="#000" stroke-width="3.3"/>
<rect x="817.7" y="2601.4" width="17.8" height="17.5" fill="none" stroke="#000" stroke-width="3.3"/>
<rect x="840.5" y="2607.6" width="17.8" height="17.5" fill="none" stroke="#000" stroke-width="3.3"/>
<rect x="863.2" y="2613.7" width="17.8" height="17.5" fill="none" stroke="#000" stroke-width="3.3"/>
<rect x="885.9" y="2622.8" width="17.8" height="17.5" fill="none" stroke="#000" stroke-width="3.3"/>
<rect x="908.7" y="2625.8" width="17.8" height="17.5" fill="none" stroke="#000" stroke-width="3.3"/>
<rect x="931.4" y="2626.2" width="17.8" height="17.5" fill="none" stroke="#000" stroke-width="3.3"/>
<rect x="954.1" y="2627.8" width="17.8" height="17.5" fill="none" stroke="#000" stroke-width="3.3"/>
<rect x="976.9" y="2631.8" width="17.8" height="17.5" fill="none" stroke="#000" stroke-width="3.3"/>
<rect x="999.6" y="2635.6" width="17.8" height="17.5" fill="none" stroke="#000" stroke-width="3.3"/>
<rect x="1022.4" y="2638.6" width="17.8" height="17.5" fill="none" stroke="#000" stroke-width="3.3"/>
<rect x="1045.1" y="2641.2" width="17.8" height="17.5" fill="none" stroke="#000" stroke-width="3.3"/>
<rect x="1067.8" y="2641.8" width="17.8" height="17.5" fill="none" stroke="#000" stroke-width="3.3"/>
<rect x="1090.6" y="2643.8" width="17.8" height="17.5" fill="none" stroke="#000" stroke-width="3.3"/>
<rect x="1113.3" y="2654.7" width="17.8" height="17.5" fill="none" stroke="#000" stroke-width="3.3"/>
<rect x="1136.0" y="2655.2" width="17.8" height="17.5" fill="none" stroke="#000" stroke-width="3.3"/>
<rect x="1158.8" y="2657.2" width="17.8" height="17.5" fill="none" stroke="#000" stroke-width="3.3"/>
<rect x="1181.5" y="2657.9" width="17.8" height="17.5" fill="none" stroke="#000" stroke-width="3.3"/>
<rect x="1204.2" y="2660.1" width="17.8" height="17.5" fill="none" stroke="#000" stroke-width="3.3"/>
<rect x="1227.0" y="2660.1" width="17.8" height="17.5" fill="none" stroke="#000" stroke-width="3.3"/>
<rect x="1249.7" y="2662.7" width="17.8" height="17.5" fill="none" stroke="#000" stroke-width="3.3"/>
<rect x="1272.5" y="2663.2" width="17.8" height="17.5" fill="none" stroke="#000" stroke-width="3.3"/>
<rect x="1295.2" y="2663.2" width="17.8" height="17.5" fill="none" stroke="#000" stroke-width="3.3"/>
<rect x="1317.9" y="2665.9" width="17.8" height="17.5" fill="none" stroke="#000" stroke-width="3.3"/>
<path d="M553.8,2153.3 L562.8,2162.6 L553.8,2171.8 L544.8,2162.6 Z" fill="none" stroke="#000" stroke-width="3.1" stroke-linejoin="miter"/>
<path d="M576.5,2433.8 L585.5,2443.0 L576.5,2452.2 L567.5,2443.0 Z" fill="none" stroke="#000" stroke-width="3.1" stroke-linejoin="miter"/>
<path d="M599.3,2472.8 L608.3,2482.0 L599.3,2491.2 L590.3,2482.0 Z" fill="none" stroke="#000" stroke-width="3.1" stroke-linejoin="miter"/>
<path d="M622.0,2496.4 L631.0,2505.7 L622.0,2514.9 L613.0,2505.7 Z" fill="none" stroke="#000" stroke-width="3.1" stroke-linejoin="miter"/>
<path d="M644.7,2516.7 L653.7,2525.9 L644.7,2535.2 L635.7,2525.9 Z" fill="none" stroke="#000" stroke-width="3.1" stroke-linejoin="miter"/>
<path d="M667.5,2535.8 L676.5,2545.1 L667.5,2554.3 L658.5,2545.1 Z" fill="none" stroke="#000" stroke-width="3.1" stroke-linejoin="miter"/>
<path d="M690.2,2546.1 L699.2,2555.3 L690.2,2564.6 L681.2,2555.3 Z" fill="none" stroke="#000" stroke-width="3.1" stroke-linejoin="miter"/>
<path d="M712.9,2555.2 L721.9,2564.4 L712.9,2573.7 L703.9,2564.4 Z" fill="none" stroke="#000" stroke-width="3.1" stroke-linejoin="miter"/>
<path d="M735.7,2563.2 L744.7,2572.5 L735.7,2581.8 L726.7,2572.5 Z" fill="none" stroke="#000" stroke-width="3.1" stroke-linejoin="miter"/>
<path d="M758.4,2570.2 L767.4,2579.5 L758.4,2588.8 L749.4,2579.5 Z" fill="none" stroke="#000" stroke-width="3.1" stroke-linejoin="miter"/>
<path d="M781.1,2579.3 L790.1,2588.6 L781.1,2597.8 L772.1,2588.6 Z" fill="none" stroke="#000" stroke-width="3.1" stroke-linejoin="miter"/>
<path d="M803.9,2585.4 L812.9,2594.7 L803.9,2603.9 L794.9,2594.7 Z" fill="none" stroke="#000" stroke-width="3.1" stroke-linejoin="miter"/>
<path d="M826.6,2591.4 L835.6,2600.7 L826.6,2609.9 L817.6,2600.7 Z" fill="none" stroke="#000" stroke-width="3.1" stroke-linejoin="miter"/>
<path d="M849.4,2598.6 L858.4,2607.8 L849.4,2617.1 L840.4,2607.8 Z" fill="none" stroke="#000" stroke-width="3.1" stroke-linejoin="miter"/>
<path d="M872.1,2605.7 L881.1,2614.9 L872.1,2624.2 L863.1,2614.9 Z" fill="none" stroke="#000" stroke-width="3.1" stroke-linejoin="miter"/>
<path d="M894.8,2613.8 L903.8,2623.0 L894.8,2632.2 L885.8,2623.0 Z" fill="none" stroke="#000" stroke-width="3.1" stroke-linejoin="miter"/>
<path d="M917.6,2619.8 L926.6,2629.0 L917.6,2638.2 L908.6,2629.0 Z" fill="none" stroke="#000" stroke-width="3.1" stroke-linejoin="miter"/>
<path d="M940.3,2621.8 L949.3,2631.0 L940.3,2640.2 L931.3,2631.0 Z" fill="none" stroke="#000" stroke-width="3.1" stroke-linejoin="miter"/>
<path d="M963.0,2623.8 L972.0,2633.0 L963.0,2642.2 L954.0,2633.0 Z" fill="none" stroke="#000" stroke-width="3.1" stroke-linejoin="miter"/>
<path d="M985.8,2627.8 L994.8,2637.0 L985.8,2646.2 L976.8,2637.0 Z" fill="none" stroke="#000" stroke-width="3.1" stroke-linejoin="miter"/>
<path d="M1008.5,2630.8 L1017.5,2640.0 L1008.5,2649.2 L999.5,2640.0 Z" fill="none" stroke="#000" stroke-width="3.1" stroke-linejoin="miter"/>
<path d="M1031.3,2633.8 L1040.3,2643.0 L1031.3,2652.2 L1022.3,2643.0 Z" fill="none" stroke="#000" stroke-width="3.1" stroke-linejoin="miter"/>
<path d="M1054.0,2636.8 L1063.0,2646.0 L1054.0,2655.2 L1045.0,2646.0 Z" fill="none" stroke="#000" stroke-width="3.1" stroke-linejoin="miter"/>
<path d="M1076.7,2637.8 L1085.7,2647.0 L1076.7,2656.2 L1067.7,2647.0 Z" fill="none" stroke="#000" stroke-width="3.1" stroke-linejoin="miter"/>
<path d="M1099.5,2639.8 L1108.5,2649.0 L1099.5,2658.2 L1090.5,2649.0 Z" fill="none" stroke="#000" stroke-width="3.1" stroke-linejoin="miter"/>
<path d="M1122.2,2650.8 L1131.2,2660.0 L1122.2,2669.2 L1113.2,2660.0 Z" fill="none" stroke="#000" stroke-width="3.1" stroke-linejoin="miter"/>
<path d="M1144.9,2651.8 L1153.9,2661.0 L1144.9,2670.2 L1135.9,2661.0 Z" fill="none" stroke="#000" stroke-width="3.1" stroke-linejoin="miter"/>
<path d="M1167.7,2653.8 L1176.7,2663.0 L1167.7,2672.2 L1158.7,2663.0 Z" fill="none" stroke="#000" stroke-width="3.1" stroke-linejoin="miter"/>
<path d="M1190.4,2654.8 L1199.4,2664.0 L1190.4,2673.2 L1181.4,2664.0 Z" fill="none" stroke="#000" stroke-width="3.1" stroke-linejoin="miter"/>
<path d="M1213.1,2656.8 L1222.1,2666.0 L1213.1,2675.2 L1204.1,2666.0 Z" fill="none" stroke="#000" stroke-width="3.1" stroke-linejoin="miter"/>
<path d="M1235.9,2656.8 L1244.9,2666.0 L1235.9,2675.2 L1226.9,2666.0 Z" fill="none" stroke="#000" stroke-width="3.1" stroke-linejoin="miter"/>
<path d="M1258.6,2659.8 L1267.6,2669.0 L1258.6,2678.2 L1249.6,2669.0 Z" fill="none" stroke="#000" stroke-width="3.1" stroke-linejoin="miter"/>
<path d="M1281.4,2660.8 L1290.4,2670.0 L1281.4,2679.2 L1272.4,2670.0 Z" fill="none" stroke="#000" stroke-width="3.1" stroke-linejoin="miter"/>
<path d="M1304.1,2660.8 L1313.1,2670.0 L1304.1,2679.2 L1295.1,2670.0 Z" fill="none" stroke="#000" stroke-width="3.1" stroke-linejoin="miter"/>
<path d="M1326.8,2662.8 L1335.8,2672.0 L1326.8,2681.2 L1317.8,2672.0 Z" fill="none" stroke="#000" stroke-width="3.1" stroke-linejoin="miter"/>
<path d="M553.8,2416.2 L564.8,2437.8 L542.8,2437.8 Z" fill="#000"/>
<path d="M576.5,2185.1 L587.5,2206.6 L565.5,2206.6 Z" fill="#000"/>
<path d="M599.3,2162.7 L610.3,2184.2 L588.3,2184.2 Z" fill="#000"/>
<path d="M622.0,2156.4 L633.0,2177.9 L611.0,2177.9 Z" fill="#000"/>
<path d="M644.7,2155.3 L655.7,2176.8 L633.7,2176.8 Z" fill="#000"/>
<path d="M667.5,2137.9 L678.5,2159.4 L656.5,2159.4 Z" fill="#000"/>
<path d="M690.2,2133.8 L701.2,2155.2 L679.2,2155.2 Z" fill="#000"/>
<path d="M712.9,2133.8 L723.9,2155.2 L701.9,2155.2 Z" fill="#000"/>
<path d="M735.7,2133.8 L746.7,2155.2 L724.7,2155.2 Z" fill="#000"/>
<path d="M758.4,2133.8 L769.4,2155.2 L747.4,2155.2 Z" fill="#000"/>
<path d="M781.1,2133.8 L792.1,2155.2 L770.1,2155.2 Z" fill="#000"/>
<path d="M803.9,2133.8 L814.9,2155.2 L792.9,2155.2 Z" fill="#000"/>
<path d="M826.6,2133.8 L837.6,2155.2 L815.6,2155.2 Z" fill="#000"/>
<path d="M849.4,2133.8 L860.4,2155.2 L838.4,2155.2 Z" fill="#000"/>
<path d="M872.1,2131.8 L883.1,2153.2 L861.1,2153.2 Z" fill="#000"/>
<path d="M894.8,2128.2 L905.8,2149.8 L883.8,2149.8 Z" fill="#000"/>
<path d="M917.6,2119.4 L928.6,2140.9 L906.6,2140.9 Z" fill="#000"/>
<path d="M940.3,2119.4 L951.3,2140.9 L929.3,2140.9 Z" fill="#000"/>
<path d="M963.0,2119.4 L974.0,2140.9 L952.0,2140.9 Z" fill="#000"/>
<path d="M985.8,2119.4 L996.8,2140.9 L974.8,2140.9 Z" fill="#000"/>
<path d="M1008.5,2119.4 L1019.5,2140.9 L997.5,2140.9 Z" fill="#000"/>
<path d="M1031.3,2119.4 L1042.3,2140.9 L1020.3,2140.9 Z" fill="#000"/>
<path d="M1054.0,2119.4 L1065.0,2140.9 L1043.0,2140.9 Z" fill="#000"/>
<path d="M1076.7,2119.4 L1087.7,2140.9 L1065.7,2140.9 Z" fill="#000"/>
<path d="M1099.5,2119.4 L1110.5,2140.9 L1088.5,2140.9 Z" fill="#000"/>
<path d="M1122.2,2136.2 L1133.2,2157.8 L1111.2,2157.8 Z" fill="#000"/>
<path d="M1144.9,2116.2 L1155.9,2137.8 L1133.9,2137.8 Z" fill="#000"/>
<path d="M1167.7,2116.2 L1178.7,2137.8 L1156.7,2137.8 Z" fill="#000"/>
<path d="M1190.4,2116.2 L1201.4,2137.8 L1179.4,2137.8 Z" fill="#000"/>
<path d="M1213.1,2116.2 L1224.1,2137.8 L1202.1,2137.8 Z" fill="#000"/>
<path d="M1235.9,2116.2 L1246.9,2137.8 L1224.9,2137.8 Z" fill="#000"/>
<path d="M1258.6,2116.2 L1269.6,2137.8 L1247.6,2137.8 Z" fill="#000"/>
<path d="M1281.4,2116.2 L1292.4,2137.8 L1270.4,2137.8 Z" fill="#000"/>
<path d="M1304.1,2116.2 L1315.1,2137.8 L1293.1,2137.8 Z" fill="#000"/>
<path d="M1326.8,2116.2 L1337.8,2137.8 L1315.8,2137.8 Z" fill="#000"/>
</g>
<rect x="520" y="2718.5" width="170" height="92.5" fill="#fff"/>
<rect x="725" y="2718.5" width="110" height="97.5" fill="#fff"/>
<rect x="860" y="2718.5" width="200" height="97.5" fill="#fff"/>
<text x="565.4" y="2779.0" font-family="'Liberation Sans', Arial, Helvetica, sans-serif" font-size="51" font-weight="normal" text-anchor="start" fill="#000" stroke="#000" stroke-width="1.8" stroke-linejoin="round">C/10</text>
<text x="730.9" y="2780.6" font-family="'Liberation Sans', Arial, Helvetica, sans-serif" font-size="51" font-weight="normal" text-anchor="start" fill="#000" stroke="#000" stroke-width="1.8" stroke-linejoin="round">C/5</text>
<text x="969.2" y="2783.7" font-family="'Liberation Sans', Arial, Helvetica, sans-serif" font-size="51" font-weight="normal" text-anchor="start" fill="#000" stroke="#000" stroke-width="1.8" stroke-linejoin="round">C/2</text>
<text x="1274.3" y="2791.7" font-family="'Liberation Sans', Arial, Helvetica, sans-serif" font-size="51" font-weight="normal" text-anchor="start" fill="#000" stroke="#000" stroke-width="1.8" stroke-linejoin="round">C</text>
<line x1="531.5" y1="2811.0" x2="531.5" y2="2852.0" stroke="#222" stroke-width="3.4" />
<text x="491.0" y="2851.8" font-family="'Liberation Sans', Arial, Helvetica, sans-serif" font-size="48.6" font-weight="normal" text-anchor="end" fill="#000" letter-spacing="1.5" stroke="#000" stroke-width="1.8" stroke-linejoin="round">0</text>
<text x="491.0" y="2660.2" font-family="'Liberation Sans', Arial, Helvetica, sans-serif" font-size="48.6" font-weight="normal" text-anchor="end" fill="#000" letter-spacing="1.5" stroke="#000" stroke-width="1.8" stroke-linejoin="round">40</text>
<text x="491.0" y="2468.6" font-family="'Liberation Sans', Arial, Helvetica, sans-serif" font-size="48.6" font-weight="normal" text-anchor="end" fill="#000" letter-spacing="1.5" stroke="#000" stroke-width="1.8" stroke-linejoin="round">80</text>
<text x="491.0" y="2276.9" font-family="'Liberation Sans', Arial, Helvetica, sans-serif" font-size="48.6" font-weight="normal" text-anchor="end" fill="#000" letter-spacing="1.5" stroke="#000" stroke-width="1.8" stroke-linejoin="round">120</text>
<text x="1384.5" y="2862.7" font-family="'Liberation Sans', Arial, Helvetica, sans-serif" font-size="64" font-weight="normal" text-anchor="start" fill="#000" letter-spacing="1.7" stroke="#000" stroke-width="2.3" stroke-linejoin="round">0</text>
<text x="1384.5" y="2718.6" font-family="'Liberation Sans', Arial, Helvetica, sans-serif" font-size="64" font-weight="normal" text-anchor="start" fill="#000" letter-spacing="1.7" stroke="#000" stroke-width="2.3" stroke-linejoin="round">20</text>
<text x="1384.5" y="2574.5" font-family="'Liberation Sans', Arial, Helvetica, sans-serif" font-size="64" font-weight="normal" text-anchor="start" fill="#000" letter-spacing="1.7" stroke="#000" stroke-width="2.3" stroke-linejoin="round">40</text>
<text x="1384.5" y="2430.4" font-family="'Liberation Sans', Arial, Helvetica, sans-serif" font-size="64" font-weight="normal" text-anchor="start" fill="#000" letter-spacing="1.7" stroke="#000" stroke-width="2.3" stroke-linejoin="round">60</text>
<text x="1384.5" y="2286.3" font-family="'Liberation Sans', Arial, Helvetica, sans-serif" font-size="64" font-weight="normal" text-anchor="start" fill="#000" letter-spacing="1.7" stroke="#000" stroke-width="2.3" stroke-linejoin="round">80</text>
<text x="1384.5" y="2142.2" font-family="'Liberation Sans', Arial, Helvetica, sans-serif" font-size="64" font-weight="normal" text-anchor="start" fill="#000" letter-spacing="1.7" stroke="#000" stroke-width="2.3" stroke-linejoin="round">100</text>
<text x="530.0" y="2905.3" font-family="'Liberation Sans', Arial, Helvetica, sans-serif" font-size="49" font-weight="normal" text-anchor="middle" fill="#000" stroke="#000" stroke-width="1.8" stroke-linejoin="round">0</text>
<text x="643.7" y="2905.3" font-family="'Liberation Sans', Arial, Helvetica, sans-serif" font-size="49" font-weight="normal" text-anchor="middle" fill="#000" stroke="#000" stroke-width="1.8" stroke-linejoin="round">5</text>
<text x="757.4" y="2905.3" font-family="'Liberation Sans', Arial, Helvetica, sans-serif" font-size="49" font-weight="normal" text-anchor="middle" fill="#000" stroke="#000" stroke-width="1.8" stroke-linejoin="round">10</text>
<text x="871.1" y="2905.3" font-family="'Liberation Sans', Arial, Helvetica, sans-serif" font-size="49" font-weight="normal" text-anchor="middle" fill="#000" stroke="#000" stroke-width="1.8" stroke-linejoin="round">15</text>
<text x="984.8" y="2905.3" font-family="'Liberation Sans', Arial, Helvetica, sans-serif" font-size="49" font-weight="normal" text-anchor="middle" fill="#000" stroke="#000" stroke-width="1.8" stroke-linejoin="round">20</text>
<text x="1098.5" y="2905.3" font-family="'Liberation Sans', Arial, Helvetica, sans-serif" font-size="49" font-weight="normal" text-anchor="middle" fill="#000" stroke="#000" stroke-width="1.8" stroke-linejoin="round">25</text>
<text x="1212.1" y="2905.3" font-family="'Liberation Sans', Arial, Helvetica, sans-serif" font-size="49" font-weight="normal" text-anchor="middle" fill="#000" stroke="#000" stroke-width="1.8" stroke-linejoin="round">30</text>
<text x="1325.8" y="2905.3" font-family="'Liberation Sans', Arial, Helvetica, sans-serif" font-size="49" font-weight="normal" text-anchor="middle" fill="#000" stroke="#000" stroke-width="1.8" stroke-linejoin="round">35</text>
<text transform="translate(381.0,2455.5) rotate(-90)" x="0" y="0" font-family="'Liberation Sans', Arial, Helvetica, sans-serif" font-size="66" font-weight="normal" text-anchor="middle" fill="#000" textLength="751" lengthAdjust="spacing" stroke="#000" stroke-width="2.3" stroke-linejoin="round">Specific capacity (mAh/g)</text>
<text transform="translate(1572.0,2501.7) rotate(-90)" x="0" y="0" font-family="'Liberation Sans', Arial, Helvetica, sans-serif" font-size="66" font-weight="normal" text-anchor="middle" fill="#000" textLength="737" lengthAdjust="spacing" stroke="#000" stroke-width="2.3" stroke-linejoin="round">Coulombic efficiency (%)</text>
<text x="951.3" y="3000.0" font-family="'Liberation Sans', Arial, Helvetica, sans-serif" font-size="64" font-weight="bold" text-anchor="middle" fill="#000" textLength="209" lengthAdjust="spacing">Cycles</text>
<text x="209.3" y="2135.7" font-family="'Liberation Serif', 'Times New Roman', serif" font-size="69" font-weight="bold" text-anchor="start" fill="#000" textLength="81" lengthAdjust="spacing">(c)</text>
</svg></body></html>
